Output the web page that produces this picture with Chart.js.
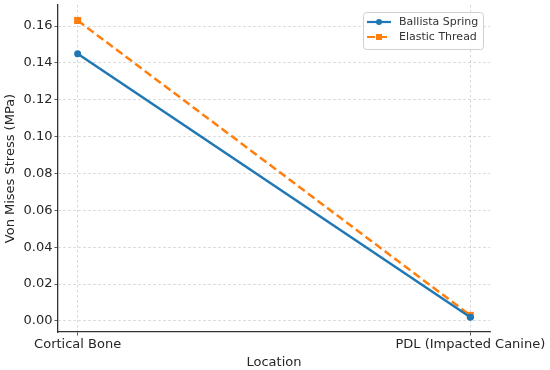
<!DOCTYPE html>
<html>
<head>
<meta charset="utf-8">
<script src="https://cdn.jsdelivr.net/npm/chart.js@4/dist/chart.umd.min.js"></script>
<style>
  html, body { margin: 0; padding: 0; background: #ffffff; }
  #wrap { width: 550px; height: 370px; }
</style>
</head>
<body>
<div id="wrap"><canvas id="c" width="550" height="370"></canvas></div>
<script>
const categories = ['Cortical Bone', 'PDL (Impacted Canine)'];
const seriesNames = ['Ballista Spring', 'Elastic Thread'];
const ballistaSpring = [0.145, 0.002];
const elasticThread = [0.163, 0.003];
const yTicks = [0.00, 0.02, 0.04, 0.06, 0.08, 0.10, 0.12, 0.14, 0.16];

const FONT = "'DejaVu Sans', sans-serif";
const TXT = '#262626';
const AXIS = '#333333';
const GRID = 'rgba(0,0,0,0.2)';

const toPoints = arr => arr.map((v, i) => ({ x: i, y: v }));

const legendPlugin = {
  id: 'boxLegend',
  afterDatasetsDraw(chart) {
    const ctx = chart.ctx;
    const ca = chart.chartArea;
    const w = 120, h = 37;
    const x0 = ca.right - 7 - w, y0 = ca.top + 7;
    ctx.save();
    ctx.beginPath();
    if (ctx.roundRect) ctx.roundRect(x0 + 0.5, y0 + 0.5, w, h, 3); else ctx.rect(x0 + 0.5, y0 + 0.5, w, h);
    ctx.fillStyle = 'rgba(255,255,255,0.85)';
    ctx.fill();
    ctx.strokeStyle = '#d0d0d0';
    ctx.lineWidth = 1;
    ctx.stroke();
    chart.data.datasets.forEach((ds, i) => {
      const yy = y0 + 10 + i * 15;
      ctx.beginPath();
      ctx.setLineDash(ds.borderDash || []);
      ctx.strokeStyle = ds.borderColor;
      ctx.lineWidth = 2.2;
      ctx.moveTo(x0 + 4, yy);
      ctx.lineTo(x0 + 28, yy);
      ctx.stroke();
      ctx.setLineDash([]);
      ctx.fillStyle = ds.borderColor;
      if (ds.pointStyle === 'rect') {
        ctx.fillRect(x0 + 16 - 3, yy - 3, 6, 6);
      } else {
        ctx.beginPath();
        ctx.arc(x0 + 16, yy, 3, 0, Math.PI * 2);
        ctx.fill();
      }
      ctx.fillStyle = '#333333';
      ctx.font = "11px " + FONT;
      ctx.textBaseline = 'middle';
      ctx.textAlign = 'left';
      ctx.fillText(ds.label, x0 + 36, yy);
    });
    ctx.restore();
  }
};

new Chart(document.getElementById('c'), {
  type: 'line',
  data: {
    datasets: [
      {
        label: seriesNames[0],
        data: toPoints(ballistaSpring),
        borderColor: '#1f77b4',
        backgroundColor: '#1f77b4',
        borderWidth: 2.5,
        pointStyle: 'circle',
        pointRadius: 3.5,
        pointBorderWidth: 0,
        fill: false,
        tension: 0
      },
      {
        label: seriesNames[1],
        data: toPoints(elasticThread),
        borderColor: '#ff7f0e',
        backgroundColor: '#ff7f0e',
        borderWidth: 2.5,
        borderDash: [8, 4],
        pointStyle: 'rect',
        pointRadius: 5,
        pointBorderWidth: 0,
        fill: false,
        tension: 0
      }
    ]
  },
  options: {
    responsive: false,
    animation: false,
    devicePixelRatio: 1,
    layout: { padding: { top: 5, right: 60, left: 0, bottom: 0 } },
    plugins: { legend: { display: false }, tooltip: { enabled: false } },
    scales: {
      x: {
        type: 'linear',
        min: -0.05,
        max: 1.05,
        afterBuildTicks: s => { s.ticks = categories.map((c, i) => ({ value: i })); },
        afterFit: s => { s.height = 38; },
        ticks: {
          callback: v => categories[v] !== undefined ? categories[v] : '',
          font: { family: FONT, size: 13 },
          color: TXT,
          padding: 1,
          maxRotation: 0,
          autoSkip: false
        },
        grid: {
          color: GRID,
          lineWidth: 0.8,
          tickColor: AXIS,
          tickBorderDash: [],
          tickLength: 3.5,
          drawTicks: true
        },
        border: { display: true, color: AXIS, width: 1.3, dash: [2.5, 2.5] },
        title: {
          display: true,
          text: 'Location',
          font: { family: FONT, size: 13 },
          color: TXT,
          padding: { top: 0, bottom: 0 }
        }
      },
      y: {
        type: 'linear',
        min: -0.006,
        max: 0.1714,
        afterBuildTicks: s => { s.ticks = yTicks.map(v => ({ value: v })); },
        afterFit: s => { s.width = 58; s.paddingTop = 0; s.paddingBottom = 0; },
        ticks: {
          callback: v => Number(v).toFixed(2),
          font: { family: FONT, size: 13 },
          color: TXT,
          padding: 2
        },
        grid: {
          color: GRID,
          lineWidth: 0.8,
          tickColor: AXIS,
          tickBorderDash: [],
          tickLength: 3.5,
          drawTicks: true
        },
        border: { display: true, color: AXIS, width: 1.3, dash: [2.5, 2.5] },
        title: {
          display: true,
          text: 'Von Mises Stress (MPa)',
          font: { family: FONT, size: 13 },
          color: TXT,
          padding: { top: 3, bottom: 0 }
        }
      }
    }
  },
  plugins: [legendPlugin]
});
</script>
</body>
</html>
